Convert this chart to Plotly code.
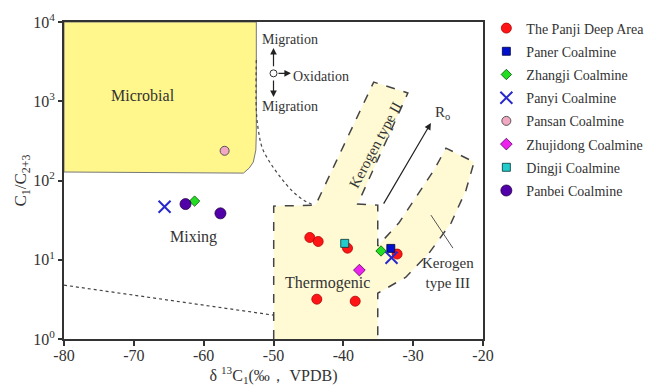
import math
import plotly.graph_objects as go

# ---------------- data ----------------
panji_x = [-44.8, -43.6, -39.4, -32.3, -43.8, -38.3]
panji_y = [19.1, 17.0, 14.0, 11.8, 3.18, 3.0]
paner_x = [-33.2]
paner_y = [13.9]
zhangji_x = [-61.3, -34.6]
zhangji_y = [55.0, 12.9]
panyi_x = [-65.6, -33.1]
panyi_y = [46.6, 10.6]
pansan_x = [-57.0]
pansan_y = [237.0]
zhujidong_x = [-37.7]
zhujidong_y = [7.4]
dingji_x = [-39.8]
dingji_y = [16.1]
panbei_x = [-62.6, -57.6]
panbei_y = [50.4, 38.5]

# ---------------- genetic diagram regions ----------------
microbial_x = [-80, -52.46, -52.46, -52.53, -52.89, -53.46, -54.3, -80, -80]
microbial_y = [10000, 10000, 396, 242, 171, 144, 124, 128, 10000]

thermo_x = [-49.97, -49.97, -43.98, -35.65, -30.76, -37.95, -35.07, -35.07,
            -32.06, -29.18, -27.03, -25.3, -21.28, -22.43, -24.58, -27.74,
            -31.05, -35.07, -35.07]
thermo_y = [1.0, 47.5, 48.9, 1746, 1271, 50.4, 48.9, 14.9,
            29.0, 69.4, 135, 256, 171, 75.7, 29.0, 12.1,
            6.03, 3.78, 1.0]

dotted_curve_x = [-52.46, -52.46, -52.17, -51.6, -50.45, -49.0, -47.29, -45.7, -44.27]
dotted_curve_y = [3311, 774, 432, 256, 166, 110, 73.4, 56.6, 48.9]

dotted_line_x = [-80, -50]
dotted_line_y = [4.78, 2.0]

pointer_x = [-27.46, -24.3]
pointer_y = [36.6, 14.0]

center_x = [-50.0]
center_y = [2249]

tick_vals = [1, 10, 100, 1000, 10000]
tick_text = ["10<sup>0</sup>", "10<sup>1</sup>", "10<sup>2</sup>", "10<sup>3</sup>", "10<sup>4</sup>"]
x_ticks = [-80, -70, -60, -50, -40, -30, -20]
x_ticktext = ["-80", "-70", "-60", "-50", "-40", "-30", "-20"]

SERIF = "Liberation Serif"
TXT = "#333333"

fig = go.Figure()

fig.add_trace(go.Scatter(x=microbial_x, y=microbial_y, mode="lines", fill="toself",
                         fillcolor="rgb(255,246,140)", line=dict(color="#777777", width=1),
                         showlegend=False, hoverinfo="skip"))
fig.add_trace(go.Scatter(x=thermo_x, y=thermo_y, mode="lines", fill="toself",
                         fillcolor="rgb(255,250,212)",
                         line=dict(color="#444444", width=1.5, dash="dash"),
                         showlegend=False, hoverinfo="skip"))
fig.add_trace(go.Scatter(x=dotted_curve_x, y=dotted_curve_y, mode="lines",
                         line=dict(color="#444444", width=1.2, dash="dot", shape="spline"),
                         showlegend=False, hoverinfo="skip"))
fig.add_trace(go.Scatter(x=dotted_line_x, y=dotted_line_y, mode="lines",
                         line=dict(color="#444444", width=1.2, dash="dot"),
                         showlegend=False, hoverinfo="skip"))
fig.add_trace(go.Scatter(x=pointer_x, y=pointer_y, mode="lines",
                         line=dict(color="#555555", width=1),
                         showlegend=False, hoverinfo="skip"))

def add_pts(name, xs, ys, symbol, color, size, lcolor, lw=0.8):
    fig.add_trace(go.Scatter(
        x=xs, y=ys, mode="markers", name=name, legendgroup=name,
        marker=dict(symbol=symbol, color=color, size=size,
                    line=dict(color=lcolor, width=lw))))

add_pts("The Panji Deep Area", panji_x, panji_y, "circle", "#FF1515", 10, "#B00000")
add_pts("Paner Coalmine", paner_x, paner_y, "square", "#0010CC", 8, "#000044")
add_pts("Zhangji Coalmine", zhangji_x, zhangji_y, "diamond", "#22DD22", 8, "#005500")
fig.add_trace(go.Scatter(x=panyi_x, y=panyi_y, mode="markers", name="Panyi Coalmine",
                         legendgroup="Panyi",
                         marker=dict(symbol="x-thin", size=12, line=dict(color="#2828CC", width=2))))
add_pts("Pansan Coalmine", pansan_x, pansan_y, "circle", "#F2A8C2", 9, "#555555", 1)
add_pts("Zhujidong Coalmine", zhujidong_x, zhujidong_y, "diamond", "#EE22EE", 9, "#550055")
add_pts("Dingji Coalmine", dingji_x, dingji_y, "square", "#22CCCC", 8, "#003333")
add_pts("Panbei Coalmine", panbei_x, panbei_y, "circle", "#5200A8", 11, "#220044")

fig.add_trace(go.Scatter(x=center_x, y=center_y, mode="markers",
                         marker=dict(symbol="circle", size=7, color="white",
                                     line=dict(color="#333333", width=1)),
                         showlegend=False, hoverinfo="skip"))

L = math.log10
ann = []
def label(x, y, text, size=14, xanchor="center", angle=0):
    ann.append(dict(x=x, y=L(y), xref="x", yref="y", text=text, showarrow=False,
                    xanchor=xanchor, yanchor="middle", textangle=angle,
                    font=dict(family=SERIF, size=size, color=TXT)))

label(-68.7, 1197, "Microbial", 16)
label(-61.5, 19.3, "Mixing", 16)
label(-42.3, 5.07, "Thermogenic", 16)
label(-35.4, 280, "Kerogen type II", 15, angle=-62)
label(-25.0, 6.8, "Kerogen<br>type III", 15)
label(-51.9, 10 ** 3.773, "Migration", 14, xanchor="left")
label(-47.45, 10 ** 3.309, "Oxidation", 14, xanchor="left")
label(-51.9, 10 ** 2.931, "Migration", 14, xanchor="left")
label(-27.2, 710, "R<sub>o</sub>", 15, xanchor="left")

def arrow(x0, y0, x1, y1):
    ann.append(dict(x=x1, y=L(y1), ax=x0, ay=L(y0), xref="x", yref="y",
                    axref="x", ayref="y", text="", showarrow=True,
                    arrowhead=2, arrowsize=1.1, arrowwidth=1.2, arrowcolor="#222222"))

arrow(-34.35, 48.9, -27.46, 531)
arrow(-50.0, 2249 * 1.18, -50.0, 4700)
arrow(-50.0, 2249 / 1.18, -50.0, 1130)
arrow(-49.5, 2249, -47.5, 2249)

fig.update_layout(
    width=654, height=390,
    margin=dict(l=64, r=171, t=22, b=51, autoexpand=False),
    paper_bgcolor="white", plot_bgcolor="white",
    font=dict(family=SERIF, color=TXT),
    annotations=ann,
    showlegend=True,
    legend=dict(x=1.008, y=1.03, xanchor="left", yanchor="top",
                font=dict(family=SERIF, size=14, color=TXT),
                bgcolor="rgba(0,0,0,0)", tracegroupgap=2, maxheight=360),
    xaxis=dict(range=[-80, -20], tickvals=x_ticks, ticktext=x_ticktext,
               showgrid=False, zeroline=False, automargin=False,
               showline=True, mirror=True, linewidth=2, linecolor="#333333",
               ticks="outside", ticklen=5, tickwidth=2, tickcolor="#333333",
               ticklabelstandoff=-4,
               tickfont=dict(family=SERIF, size=16, color=TXT),
               title=dict(text="δ <sup>13</sup>C<sub>1</sub>(‰， VPDB)", standoff=6,
                          font=dict(family=SERIF, size=16, color=TXT))),
    yaxis=dict(type="log", range=[0, 4], tickvals=tick_vals, ticktext=tick_text,
               showgrid=False, zeroline=False, automargin=False,
               showline=True, mirror=True, linewidth=2, linecolor="#333333",
               ticks="outside", ticklen=4, tickwidth=2, tickcolor="#333333",
               tickfont=dict(family=SERIF, size=16, color=TXT),
               title=dict(text="C<sub>1</sub>/C<sub>2+3</sub>", standoff=2,
                          font=dict(family=SERIF, size=17, color=TXT))),
)

fig.write_html("out.html")
